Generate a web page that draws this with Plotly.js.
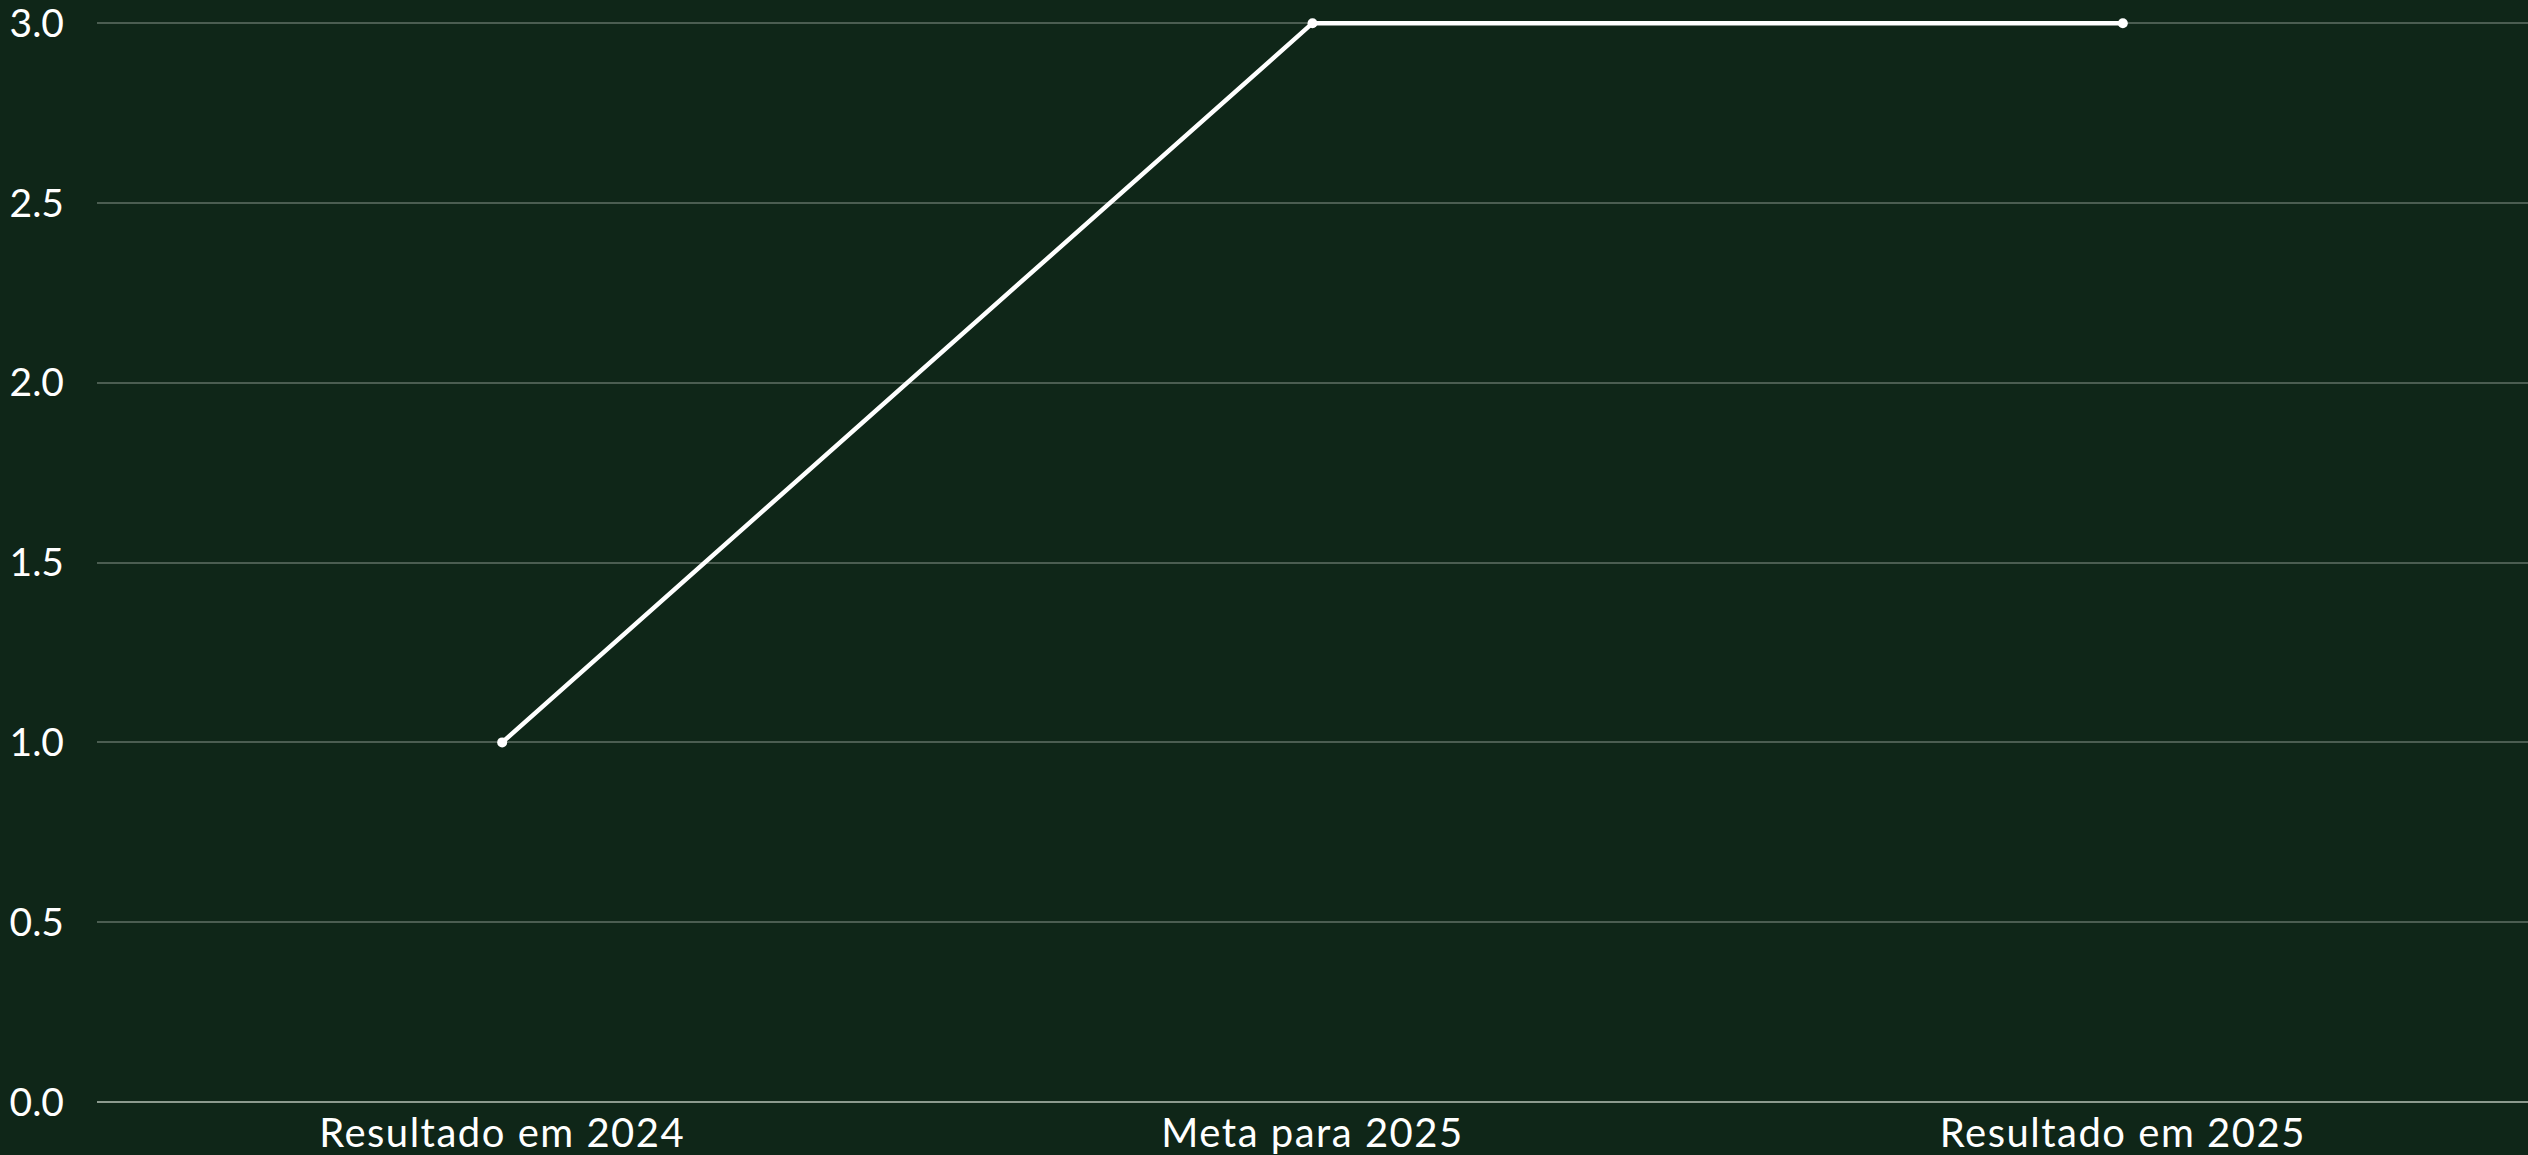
<!DOCTYPE html>
<html>
<head>
<meta charset="utf-8">
<script src="https://cdn.plot.ly/plotly-3.0.1.min.js"></script>
<style>
html,body{margin:0;padding:0;background:#0f2618;}
#chart{width:2528px;height:1155px;}
.xtick text{letter-spacing:1.5px;}
</style>
</head>
<body>
<div id="chart"></div>
<script>
const categories = ["Resultado em 2024", "Meta para 2025", "Resultado em 2025"];
const values = [1, 3, 3];
const yTicks = [0, 0.5, 1, 1.5, 2, 2.5, 3];

const trace = {
  x: categories,
  y: values,
  type: "scatter",
  mode: "lines+markers",
  line: {color: "#ffffff", width: 4.5},
  marker: {color: "#ffffff", size: 10},
  cliponaxis: false,
  hoverinfo: "skip"
};

const layout = {
  width: 2528,
  height: 1155,
  paper_bgcolor: "#0f2618",
  plot_bgcolor: "#0f2618",
  margin: {l: 97, r: 0, t: 16, b: 53, pad: 0},
  showlegend: false,
  font: {family: "Lato, 'Noto Sans', sans-serif", color: "#ffffff", size: 39},
  xaxis: {
    type: "category",
    range: [-0.5, 2.5],
    showgrid: false,
    zeroline: false,
    showline: false,
    ticks: "",
    ticklabelstandoff: 4,
    ticklabeloverflow: "allow",
    tickfont: {size: 40, color: "#ffffff"}
  },
  yaxis: {
    range: [0, 3.02],
    tickvals: yTicks,
    ticktext: yTicks.map(v => v.toFixed(1)),
    showgrid: true,
    gridcolor: "#4b5d51",
    gridwidth: 2,
    zeroline: true,
    zerolinecolor: "#8c9a8e",
    zerolinewidth: 2,
    showline: false,
    ticks: "",
    ticklabelstandoff: 32,
    ticklabeloverflow: "allow",
    tickfont: {size: 39, color: "#ffffff"}
  }
};

Plotly.newPlot("chart", [trace], layout, {displayModeBar: false, staticPlot: true});
</script>
</body>
</html>
